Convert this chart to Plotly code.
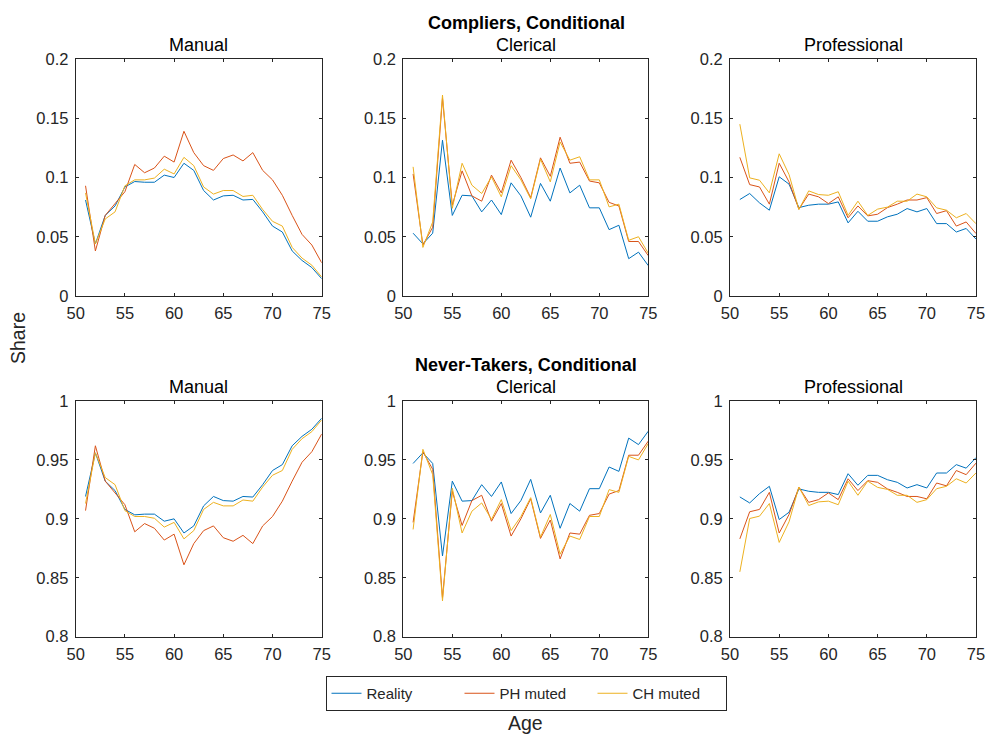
import plotly.graph_objects as go

ages = list(range(51, 76))

# Compliers, Conditional
c_manual_real = [0.081, 0.044, 0.068, 0.076, 0.092, 0.0966, 0.096, 0.096, 0.102, 0.100, 0.112, 0.106, 0.089,
                 0.081, 0.0845, 0.085, 0.081, 0.0815, 0.071, 0.059, 0.054, 0.038, 0.030, 0.024, 0.0146]
c_manual_ph = [0.093, 0.038, 0.068, 0.078, 0.088, 0.111, 0.104, 0.108, 0.118, 0.113, 0.139, 0.121, 0.110,
               0.106, 0.116, 0.119, 0.114, 0.121, 0.106, 0.098, 0.085, 0.068, 0.052, 0.043, 0.028]
c_manual_ch = [0.087, 0.044, 0.065, 0.071, 0.093, 0.098, 0.098, 0.0995, 0.107, 0.103, 0.117, 0.110, 0.092,
               0.086, 0.089, 0.089, 0.084, 0.085, 0.073, 0.063, 0.059, 0.041, 0.032, 0.026, 0.016]

c_cler_real = [0.053, 0.044, 0.053, 0.1315, 0.068, 0.085, 0.0845, 0.071, 0.081, 0.0687, 0.0955, 0.0845, 0.0665,
               0.095, 0.080, 0.108, 0.087, 0.0935, 0.0744, 0.0744, 0.056, 0.0597, 0.0315, 0.037, 0.0256]
c_cler_ph = [0.103, 0.043, 0.058, 0.167, 0.0766, 0.1056, 0.0845, 0.080, 0.102, 0.087, 0.1146, 0.100, 0.083,
             0.1166, 0.101, 0.134, 0.112, 0.113, 0.097, 0.0955, 0.079, 0.076, 0.046, 0.046, 0.034]
c_cler_ch = [0.109, 0.041, 0.0625, 0.1696, 0.074, 0.112, 0.0935, 0.0865, 0.1005, 0.0837, 0.110, 0.098, 0.082,
             0.1155, 0.0963, 0.130, 0.1146, 0.1175, 0.098, 0.098, 0.0752, 0.0775, 0.047, 0.050, 0.036]

c_prof_real = [0.0814, 0.0865, 0.0786, 0.0724, 0.1006, 0.0944, 0.0746, 0.0766, 0.0775, 0.0775, 0.0794, 0.0617, 0.0715,
               0.0631, 0.0631, 0.0668, 0.069, 0.0738, 0.071, 0.0738, 0.0611, 0.0611, 0.054, 0.057, 0.048]
c_prof_ph = [0.117, 0.094, 0.092, 0.0775, 0.112, 0.0963, 0.0732, 0.086, 0.0837, 0.078, 0.0837, 0.066, 0.076,
             0.0676, 0.069, 0.0746, 0.0775, 0.081, 0.081, 0.083, 0.0696, 0.072, 0.059, 0.0625, 0.0527]
c_prof_ch = [0.145, 0.0997, 0.0977, 0.087, 0.120, 0.1025, 0.073, 0.0887, 0.0856, 0.085, 0.088, 0.068, 0.080,
             0.068, 0.0733, 0.075, 0.080, 0.080, 0.086, 0.0837, 0.0744, 0.0724, 0.066, 0.0696, 0.061]

# Never-Takers, Conditional
n_manual_real = [0.919, 0.956, 0.932, 0.924, 0.908, 0.9034, 0.904, 0.904, 0.898, 0.900, 0.888, 0.894, 0.911,
                 0.919, 0.9155, 0.915, 0.919, 0.9185, 0.929, 0.941, 0.946, 0.962, 0.970, 0.976, 0.9854]
n_manual_ph = [0.907, 0.962, 0.932, 0.922, 0.912, 0.889, 0.896, 0.892, 0.882, 0.887, 0.861, 0.879, 0.890,
               0.894, 0.884, 0.881, 0.886, 0.879, 0.894, 0.902, 0.915, 0.932, 0.948, 0.957, 0.972]
n_manual_ch = [0.913, 0.956, 0.935, 0.929, 0.907, 0.902, 0.902, 0.9005, 0.893, 0.897, 0.883, 0.890, 0.908,
               0.914, 0.911, 0.911, 0.916, 0.915, 0.927, 0.937, 0.941, 0.959, 0.968, 0.974, 0.984]

n_cler_real = [0.947, 0.956, 0.947, 0.8685, 0.932, 0.915, 0.9155, 0.929, 0.919, 0.9313, 0.9045, 0.9155, 0.9335,
               0.905, 0.920, 0.892, 0.913, 0.9065, 0.9256, 0.9256, 0.944, 0.9403, 0.9685, 0.963, 0.9744]
n_cler_ph = [0.897, 0.957, 0.942, 0.833, 0.9234, 0.8944, 0.9155, 0.920, 0.898, 0.913, 0.8854, 0.900, 0.917,
             0.8834, 0.899, 0.866, 0.888, 0.887, 0.903, 0.9045, 0.921, 0.924, 0.954, 0.954, 0.966]
n_cler_ch = [0.891, 0.959, 0.9375, 0.8304, 0.926, 0.888, 0.9065, 0.9135, 0.8995, 0.9163, 0.890, 0.902, 0.918,
             0.8845, 0.9037, 0.870, 0.8854, 0.8825, 0.902, 0.902, 0.9248, 0.9225, 0.953, 0.950, 0.964]

n_prof_real = [0.9186, 0.9135, 0.9214, 0.9276, 0.8994, 0.9056, 0.9254, 0.9234, 0.9225, 0.9225, 0.9206, 0.9383, 0.9285,
               0.9369, 0.9369, 0.9332, 0.931, 0.9262, 0.929, 0.9262, 0.9389, 0.9389, 0.946, 0.943, 0.952]
n_prof_ph = [0.883, 0.906, 0.908, 0.9225, 0.888, 0.9037, 0.9268, 0.914, 0.9163, 0.922, 0.9163, 0.934, 0.924,
             0.9324, 0.931, 0.9254, 0.9225, 0.919, 0.919, 0.917, 0.9304, 0.928, 0.941, 0.9375, 0.9473]
n_prof_ch = [0.855, 0.9003, 0.9023, 0.913, 0.880, 0.8975, 0.927, 0.9113, 0.9144, 0.915, 0.912, 0.932, 0.920,
             0.932, 0.9267, 0.925, 0.920, 0.920, 0.914, 0.9163, 0.9256, 0.9276, 0.934, 0.9304, 0.939]

series_names = ["Reality", "PH muted", "CH muted"]
colors = ["#0072BD", "#D95319", "#EDB120"]
col_titles = ["Manual", "Clerical", "Professional"]
row_titles = ["Compliers, Conditional", "Never-Takers, Conditional"]

top_data = [[c_manual_real, c_manual_ph, c_manual_ch],
            [c_cler_real, c_cler_ph, c_cler_ch],
            [c_prof_real, c_prof_ph, c_prof_ch]]
bot_data = [[n_manual_real, n_manual_ph, n_manual_ch],
            [n_cler_real, n_cler_ph, n_cler_ch],
            [n_prof_real, n_prof_ph, n_prof_ch]]

x_ticks = [50, 55, 60, 65, 70, 75]
top_yticks = [0, 0.05, 0.1, 0.15, 0.2]
top_ytext = ["0", "0.05", "0.1", "0.15", "0.2"]
bot_yticks = [0.8, 0.85, 0.9, 0.95, 1.0]
bot_ytext = ["0.8", "0.85", "0.9", "0.95", "1"]

# The page's body margin is removed by the post script, so the figure fills the window.
W, H = 987, 734
col_px = [(75.7, 321.7), (403.3, 648.3), (730.0, 976.0)]
row_px = [(59.0, 296.0), (401.0, 636.7)]


def fx(px):
    return px / W


def fy(py):
    return 1 - py / H


FONT = "Liberation Sans, Arial, Helvetica, sans-serif"
AX = "#262626"

fig = go.Figure()
layout = {}
idx = 0
for r in range(2):
    data = top_data if r == 0 else bot_data
    for c in range(3):
        idx += 1
        xa = "x" if idx == 1 else f"x{idx}"
        ya = "y" if idx == 1 else f"y{idx}"
        for s in range(3):
            fig.add_trace(go.Scatter(
                x=ages, y=data[c][s], mode="lines", name=series_names[s],
                line=dict(color=colors[s], width=1),
                showlegend=(idx == 1), xaxis=xa, yaxis=ya, hoverinfo="skip"))
        x0, x1 = col_px[c]
        y0, y1 = row_px[r]
        common = dict(showline=True, linecolor=AX, linewidth=1, mirror="ticks",
                      ticks="inside", ticklen=3, tickcolor=AX, tickwidth=1,
                      showgrid=False, zeroline=False, automargin=False,
                      tickfont=dict(family=FONT, size=16.5, color=AX))
        layout["xaxis" if idx == 1 else f"xaxis{idx}"] = dict(
            domain=[fx(x0), fx(x1)], range=[50, 75], tickvals=x_ticks,
            anchor=ya, ticklabelstandoff=2, **common)
        layout["yaxis" if idx == 1 else f"yaxis{idx}"] = dict(
            domain=[fy(y1), fy(y0)],
            range=[0, 0.2] if r == 0 else [0.8, 1.0],
            tickvals=top_yticks if r == 0 else bot_yticks,
            ticktext=top_ytext if r == 0 else bot_ytext,
            anchor=xa, ticklabelstandoff=3, **common)

annotations = []
for r in range(2):
    y0 = row_px[r][0]
    for c in range(3):
        x0, x1 = col_px[c]
        annotations.append(dict(text=col_titles[c], x=fx((x0 + x1) / 2), y=fy(y0 - 2),
                                xref="paper", yref="paper", xanchor="center", yanchor="bottom",
                                showarrow=False, font=dict(family=FONT, size=18, color="black")))
    annotations.append(dict(text="<b>" + row_titles[r] + "</b>", x=fx(526), y=fy(y0 - 24),
                            xref="paper", yref="paper", xanchor="center", yanchor="bottom",
                            showarrow=False, font=dict(family=FONT, size=18, color="black")))
annotations.append(dict(text="Share", x=fx(18), y=fy(338), xref="paper", yref="paper",
                        xanchor="center", yanchor="middle", textangle=-90, showarrow=False,
                        font=dict(family=FONT, size=19.5, color=AX)))
annotations.append(dict(text="Age", x=fx(525), y=fy(723), xref="paper", yref="paper",
                        xanchor="center", yanchor="middle", showarrow=False,
                        font=dict(family=FONT, size=19.5, color=AX)))

fig.update_layout(
    width=W, height=H, margin=dict(l=0, r=0, t=0, b=0),
    paper_bgcolor="white", plot_bgcolor="white",
    annotations=annotations,
    legend=dict(orientation="h", x=fx(526), xanchor="center", y=fy(676), yanchor="top",
                bordercolor=AX, borderwidth=1, bgcolor="white", entrywidth=88,
                font=dict(family=FONT, size=15, color=AX), tracegroupgap=0),
    **layout)

fig.write_html(
    "out.html",
    config={"displayModeBar": False},
    post_script=("document.body.style.margin='0px';"
                 "document.body.style.overflow='hidden';"
                 "document.documentElement.style.overflow='hidden';"))
